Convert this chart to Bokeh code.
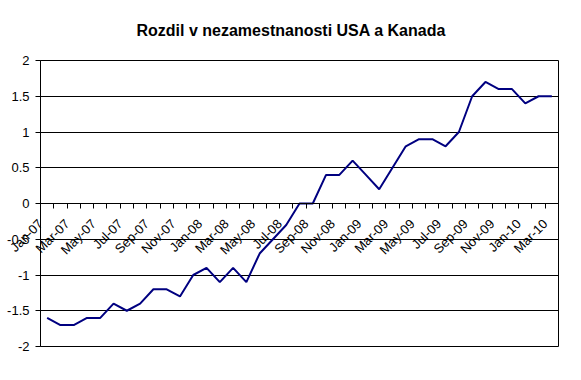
import math
from bokeh.plotting import figure
from bokeh.models import Range1d, FixedTicker, LinearAxis
from bokeh.embed import file_html
from bokeh.resources import INLINE

title_text = "Rozdil v nezamestnanosti USA a Kanada"

months = ["Jan-07", "Feb-07", "Mar-07", "Apr-07", "May-07", "Jun-07",
          "Jul-07", "Aug-07", "Sep-07", "Oct-07", "Nov-07", "Dec-07",
          "Jan-08", "Feb-08", "Mar-08", "Apr-08", "May-08", "Jun-08",
          "Jul-08", "Aug-08", "Sep-08", "Oct-08", "Nov-08", "Dec-08",
          "Jan-09", "Feb-09", "Mar-09", "Apr-09", "May-09", "Jun-09",
          "Jul-09", "Aug-09", "Sep-09", "Oct-09", "Nov-09", "Dec-09",
          "Jan-10", "Feb-10", "Mar-10"]

values = [-1.6, -1.7, -1.7, -1.6, -1.6, -1.4,
          -1.5, -1.4, -1.2, -1.2, -1.3, -1.0,
          -0.9, -1.1, -0.9, -1.1, -0.7, -0.5,
          -0.3, 0.0, 0.0, 0.4, 0.4, 0.6,
          0.4, 0.2, 0.5, 0.8, 0.9, 0.9,
          0.8, 1.0, 1.5, 1.7, 1.6, 1.6,
          1.4, 1.5, 1.5]

y_ticks = [-2.0, -1.5, -1.0, -0.5, 0.0, 0.5, 1.0, 1.5, 2.0]
y_tick_labels = ["-2", "-1.5", "-1", "-0.5", "0", "0.5", "1", "1.5", "2"]

FONT = "Liberation Sans"
n = len(months)
xs = [i + 0.5 for i in range(n)]

p = figure(width=565, height=364,
           x_range=Range1d(0, n), y_range=Range1d(y_ticks[0], y_ticks[-1]),
           x_axis_type=None,
           output_backend="svg", toolbar_location=None,
           min_border_left=40, min_border_right=7,
           min_border_top=60, min_border_bottom=18)

p.background_fill_color = "white"
p.border_fill_color = "white"
p.outline_line_color = "black"
p.outline_line_alpha = 1.0
p.outline_line_width = 1

# title
p.title.text = title_text
p.title.text_font = FONT
p.title.text_font_size = "16px"
p.title.text_font_style = "bold"
p.title.text_color = "black"
p.title.align = "left"
p.title.offset = 96
p.title.vertical_align = "top"
p.title.standoff = 39

# y axis
yax = p.yaxis[0]
yax.ticker = FixedTicker(ticks=y_ticks)
yax.major_label_overrides = dict(zip(y_ticks, y_tick_labels))
yax.major_tick_in = 0
yax.major_tick_out = 5
yax.minor_tick_in = 0
yax.minor_tick_out = 0
yax.major_label_standoff = 6
yax.major_label_text_font = FONT
yax.major_label_text_font_size = "13px"
yax.major_label_text_color = "black"
yax.axis_line_color = "black"
yax.major_tick_line_color = "black"

p.ygrid.ticker = FixedTicker(ticks=y_ticks)
p.ygrid.grid_line_color = "black"
p.ygrid.grid_line_width = 1

# x axis at y=0: tick marks at month boundaries
xax = LinearAxis(ticker=FixedTicker(ticks=[], minor_ticks=list(range(n + 1))),
                 fixed_location=0,
                 major_tick_in=0, major_tick_out=0,
                 minor_tick_in=0, minor_tick_out=5,
                 minor_tick_line_color="black",
                 axis_line_color="black")
p.add_layout(xax, "below")

# month labels (every other month): bottom axis whose labels are pulled up
# (negative standoff) so they hang just under the zero line, unclipped
label_idx = list(range(0, n, 2))
label_pos = [float(i) for i in label_idx]
xlab = LinearAxis(ticker=FixedTicker(ticks=label_pos),
                  major_tick_in=0, major_tick_out=0,
                  minor_tick_in=0, minor_tick_out=0,
                  axis_line_color=None, major_tick_line_color=None,
                  major_label_orientation=math.pi / 4,
                  major_label_standoff=-125,
                  major_label_text_font=FONT,
                  major_label_text_font_size="13px",
                  major_label_text_color="black",
                  major_label_overrides={pos: months[i] for pos, i in zip(label_pos, label_idx)})
p.add_layout(xlab, "below")

p.line(xs, values, line_color="#000080", line_width=2)

open("out.html", "w").write(file_html(p, INLINE))
